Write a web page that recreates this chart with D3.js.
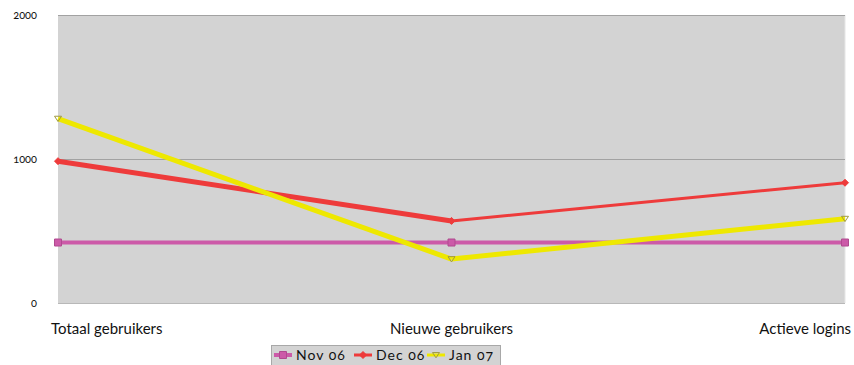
<!DOCTYPE html>
<html><head><meta charset="utf-8">
<script src="https://cdn.jsdelivr.net/npm/d3@7"></script>
<style>
html,body{margin:0;padding:0;background:#fff;}
text{font-family:Lato,"Open Sans",sans-serif;}
.onum{font-feature-settings:"onum" 1;font-variant-numeric:oldstyle-nums;}
</style></head>
<body>
<svg id="c" width="854" height="365"></svg>
<script>
const categories = ["Totaal gebruikers","Nieuwe gebruikers","Actieve logins"];
const seriesNames = ["Nov 06","Dec 06","Jan 07"];
const nov06 = [420, 420, 420];
const dec06 = [985, 570, 835];
const jan07 = [1280, 305, 585];
const yTicks = [0, 1000, 2000];

const colors = ["#cc5aa8","#ee3b3b","#eee800"];
const widths = [[4,4],[5,3],[5,5]];
const markers = ["square","diamond","triangle"];
const seriesData = [nov06, dec06, jan07];

const svg = d3.select("#c");
const L=58, R=845, T=15, B=303;
const x = d3.scalePoint().domain(categories).range([L,R]);
const y = d3.scaleLinear().domain([0,2000]).range([B,T]);

svg.append("rect").attr("x",L).attr("y",T).attr("width",R-L).attr("height",B-T).attr("fill","#d3d3d3");
svg.append("line").attr("x1",R).attr("x2",R).attr("y1",T).attr("y2",B).attr("stroke","#e6e6e6").attr("stroke-width",1);

// gridlines
svg.selectAll(".grid").data(yTicks).enter().append("line")
  .attr("x1",L).attr("x2",R).attr("y1",d=>y(d)+0.5).attr("y2",d=>y(d)+0.5)
  .attr("stroke",d=>d===0?"#b8b8b8":"#a2a2a2").attr("stroke-width",1);

// y labels
svg.selectAll(".yl").data(yTicks).enter().append("text")
  .attr("class","onum").attr("x",37).attr("y",d=>y(d)+4)
  .attr("text-anchor","end").attr("font-size",11).attr("fill","#111")
  .text(d=>d);

// x labels
svg.selectAll(".xl").data(categories).enter().append("text")
  .attr("x",(d,i)=>i===0?51:(i===2?851:x(d)))
  .attr("y",334).attr("font-size",15).attr("fill","#111")
  .attr("text-anchor",(d,i)=>i===0?"start":(i===2?"end":"middle"))
  .text(d=>d);

function markerPath(type, cx, cy, s){
  if(type==="square") return `M${cx-s},${cy-s}h${2*s}v${2*s}h${-2*s}Z`;
  if(type==="diamond") return `M${cx},${cy-s}L${cx+s},${cy}L${cx},${cy+s}L${cx-s},${cy}Z`;
  return `M${cx-s},${cy-s*0.7}L${cx+s},${cy-s*0.7}L${cx},${cy+s*0.8}Z`;
}

seriesData.forEach((vals,si)=>{
  const g = svg.append("g");
  for(let i=0;i<vals.length-1;i++){
    g.append("line")
      .attr("x1",x(categories[i])).attr("y1",y(vals[i]))
      .attr("x2",x(categories[i+1])).attr("y2",y(vals[i+1]))
      .attr("stroke",colors[si]).attr("stroke-width",widths[si][i]).attr("stroke-linecap","butt");
  }
  vals.forEach((v,i)=>{
    const m = markers[si];
    g.append("path").attr("d",markerPath(m,x(categories[i]),y(v),m==="square"?3.5:3.5))
      .attr("fill",m==="triangle"?"none":colors[si])
      .attr("stroke",m==="triangle"?"#a09a40":(m==="square"?"#b04a90":colors[si]))
      .attr("stroke-width",1);
  });
});

// legend
const lg = svg.append("g");
lg.append("rect").attr("x",271.5).attr("y",345.5).attr("width",229).attr("height",22)
  .attr("fill","#d3d3d3").attr("stroke","#a8a8a8");
const lx = [274, 354, 427];
seriesNames.forEach((n,si)=>{
  const cx = lx[si]+9, cy=355;
  lg.append("line").attr("x1",lx[si]).attr("x2",lx[si]+18).attr("y1",cy).attr("y2",cy)
    .attr("stroke",colors[si]).attr("stroke-width",si===0?4:3);
  const m = markers[si];
  lg.append("path").attr("d",markerPath(m,cx,cy,3.5))
    .attr("fill",m==="triangle"?"none":colors[si])
    .attr("stroke",m==="triangle"?"#a09a40":(m==="square"?"#b04a90":colors[si]));
  lg.append("text").attr("class","onum").attr("x",lx[si]+22).attr("y",cy+5)
    .attr("font-size",14).attr("fill","#111").attr("letter-spacing",1).text(n);
});
</script>
</body></html>
